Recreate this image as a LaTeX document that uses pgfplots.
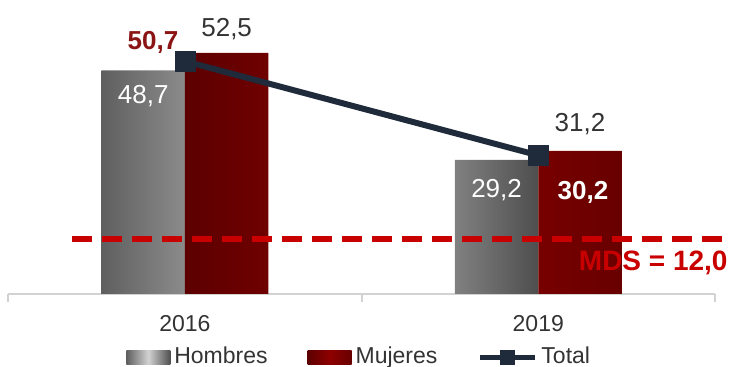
\documentclass[border=0pt]{standalone}
\usepackage{pgfplots}
\pgfplotsset{compat=1.18}
\usepackage{fontspec}
\setmainfont{Liberation Sans}
\definecolor{gL}{RGB}{95,95,95}
\definecolor{gM}{RGB}{210,210,210}
\definecolor{gR}{RGB}{78,78,78}
\definecolor{rL}{RGB}{92,0,0}
\definecolor{rM}{RGB}{142,0,0}
\definecolor{rR}{RGB}{104,0,0}
\definecolor{totc}{RGB}{31,43,58}
\definecolor{mds}{RGB}{200,0,0}
\definecolor{lbl}{RGB}{139,20,20}
\definecolor{txt}{RGB}{51,51,51}
\pgfplotsset{
  barleg/.style={legend image code/.code={\path[##1] (0pt,-3.5pt) rectangle (22pt,3.5pt);}},
  lineleg/.style={legend image code/.code={\draw[##1,mark repeat=2,mark phase=2,mark size=3.5pt,line width=2.5pt] plot coordinates {(0pt,0pt) (13.75pt,0pt) (27.5pt,0pt)};}},
}
\begin{document}
\begin{tikzpicture}
\path[use as bounding box] (0,0) rectangle (366pt,183.5pt);
\begin{axis}[
  at={(4.15pt,36.5pt)}, anchor=south west,
  scale only axis, width=353.3pt, height=146.9pt,
  xmin=-0.5, xmax=1.5, ymin=0, ymax=64,
  axis y line=none, axis x line*=bottom,
  axis line style={gray!35, line width=0.9pt},
  xtick={-0.5,0.5,1.5}, xticklabels={},
  tick align=outside, major tick length=4pt,
  tick style={gray!35, line width=0.9pt},
  extra x ticks={0,1}, extra x tick labels={2016,2019},
  extra x tick style={major tick length=0pt, tick style={draw=none}},
  xticklabel style={font=\fontsize{11.5}{13}\selectfont, text=txt, yshift=-7pt},
  /pgf/number format/assume math mode=true,
  clip=false,
  legend style={at={(0.498,-0.215)}, anchor=center, draw=none, fill=none,
    legend columns=3, font=\fontsize{11.5}{13}\selectfont, text=txt,
    /tikz/every even column/.append style={column sep=18pt}},
]
\addplot[ybar, bar width=41.75pt, bar shift=-20.875pt, draw=none,
  left color=gL, right color=gR, middle color=gM, barleg]
  coordinates {(0,48.7) (1,29.2)};
\addlegendentry{Hombres}
\addplot[ybar, bar width=41.75pt, bar shift=20.875pt, draw=none,
  left color=rL, right color=rR, middle color=rM, barleg]
  coordinates {(0,52.5) (1,31.2)};
\addlegendentry{Mujeres}
\addplot[mds, line width=3pt, dash pattern=on 10pt off 5pt, forget plot]
  coordinates {(-0.32,12) (1.548,12)};
\addplot[totc, line width=3pt, mark=square*, mark size=5pt, mark options={solid, fill=totc, line width=0.4pt}, lineleg]
  coordinates {(0,50.7) (1,30.2)};
\addlegendentry{Total}
\node[white, font=\fontsize{13}{15}\selectfont, yshift=-13pt] at (axis cs:-0.118,48.7) {48,7};
\node[white, font=\fontsize{13}{15}\selectfont, yshift=-15pt] at (axis cs:0.882,29.2) {29,2};
\node[txt, font=\fontsize{13}{15}\selectfont, yshift=12pt] at (axis cs:0.118,52.5) {52,5};
\node[txt, font=\fontsize{13}{15}\selectfont, yshift=13.5pt] at (axis cs:1.118,31.2) {31,2};
\node[lbl, font=\bfseries\fontsize{13}{15}\selectfont] at (axis cs:-0.0904,54.9) {50,7};
\node[white, font=\bfseries\fontsize{13}{15}\selectfont] at (axis cs:1.1267,22.2) {30,2};
\node[mds, font=\bfseries\fontsize{14}{16}\selectfont, anchor=north east, inner sep=0pt, yshift=-6pt] at (axis cs:1.537,12) {MDS = 12,0};
\end{axis}
\end{tikzpicture}
\end{document}
